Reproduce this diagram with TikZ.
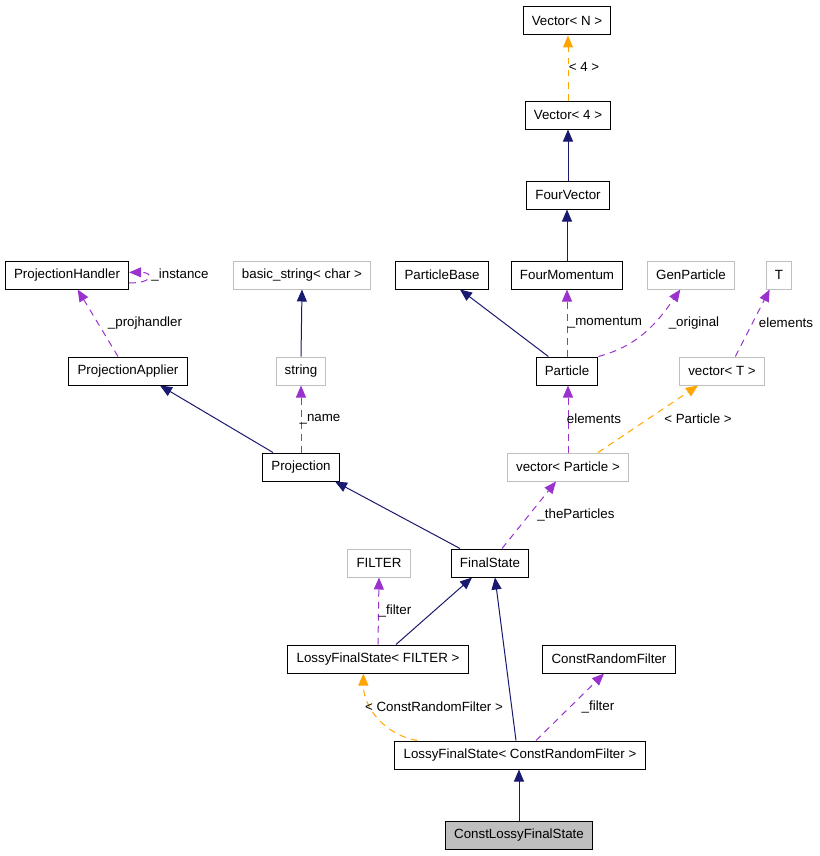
\documentclass[tikz,border=0pt]{standalone}
\usepackage{fontspec}
\setmainfont{Liberation Sans}
\usetikzlibrary{arrows.meta}

\definecolor{inhcol}{HTML}{191970}
\definecolor{usecol}{HTML}{9A32CD}
\definecolor{tplcol}{HTML}{FFA500}
\definecolor{extcol}{HTML}{BFBFBF}

\begin{document}
\begin{tikzpicture}[%
        x = 0.75pt, y = -0.75pt,
        every node/.style = {font = \fontsize{10}{12}\selectfont},
        cls/.style = {%
            draw = black, line width = 0.75pt, fill = white,
            inner xsep = 6.5pt, minimum height = 21pt
        },
        extcls/.style = {cls, draw = extcol},
        selfcls/.style = {cls, fill = extcol},
        tip/.style = {-{Triangle[length = 9pt, width = 7.5pt]}},
        inherit/.style = {tip, draw = inhcol, line width = 0.75pt},
        member/.style = {%
            tip, draw = usecol, line width = 0.75pt,
            dash pattern = on 5pt off 4pt
        },
        instance/.style = {%
            tip, draw = tplcol, line width = 0.75pt,
            dash pattern = on 5pt off 4pt
        },
        lbl/.style = {inner sep = 1pt}
    ]

        \useasboundingbox (0,0) rectangle (819,856);

        % Classes of the upper part.
        \node[cls] (vn) at (567,21) {Vector< N >};
        \node[cls] (v4) at (568,115) {Vector< 4 >};
        \node[cls] (fv) at (568,195) {FourVector};
        \node[cls] (fm) at (567,275) {FourMomentum};
        \node[cls] (pb) at (442,275) {ParticleBase};
        \node[extcls] (gp) at (691,275) {GenParticle};
        \node[extcls] (t) at (779,275) {T};
        \node[extcls] (bs) at (302,275) {basic\_string< char >};
        \node[cls] (ph) at (67,275) {ProjectionHandler};

        % Classes of the middle part.
        \node[cls] (pa) at (128,371) {ProjectionApplier};
        \node[extcls] (str) at (301,371) {string};
        \node[cls] (part) at (567,371) {Particle};
        \node[extcls] (vt) at (722,371) {vector< T >};
        \node[cls] (proj) at (301,467) {Projection};
        \node[extcls] (vp) at (568,467) {vector< Particle >};

        % Classes of the lower part.
        \node[extcls] (filt) at (379,563) {FILTER};
        \node[cls] (fs) at (490,563) {FinalState};
        \node[cls] (lfsf) at (378,659) {LossyFinalState< FILTER >};
        \node[cls] (crf) at (609,659) {ConstRandomFilter};
        \node[cls] (lfscrf) at (520,755) {LossyFinalState< ConstRandomFilter >};
        \node[selfcls] (clfs) at (519,835) {ConstLossyFinalState};

        % Solid arrows for inheritance.
        \draw[inherit] (fv.north) -- (v4.south);
        \draw[inherit] (fm.north) -- (fm.north |- fv.south);
        \draw[inherit] ([xshift = -14pt]part.north) -- ([xshift = 13.5pt]pb.south);
        \draw[inherit] (str.north) -- (bs.south);
        \draw[inherit] ([xshift = -21pt]proj.north) -- ([xshift = 24pt]pa.south);
        \draw[inherit] ([xshift = -22.5pt]fs.north) -- ([xshift = 25.5pt]proj.south);
        \draw[inherit] ([xshift = 13.5pt]lfsf.north) -- ([xshift = -13.5pt]fs.south);
        \draw[inherit] ([xshift = -3pt]lfscrf.north) -- ([xshift = 3.75pt]fs.south);
        \draw[inherit] (clfs.north) -- (clfs.north |- lfscrf.south);

        % Dashed arrows for members.
        \draw[member] (part.north) -- (fm.south);
        \draw[member] (part.north east) to[out = 15, in = -125] ([xshift = -8pt]gp.south);
        \draw[member] ([xshift = 10pt]vt.north) -- ([xshift = -7pt]t.south);
        \draw[member] ([xshift = -7.5pt]pa.north) -- ([xshift = 8pt]ph.south);
        \draw[member] ([yshift = -6pt]ph.east) to[out = 0, in = 0, looseness = 6] ([yshift = 2pt]ph.east);
        \draw[member] (proj.north) -- (str.south);
        \draw[member] (vp.north) -- (vp.north |- part.south);
        \draw[member] ([xshift = 9pt]fs.north) -- ([xshift = -9pt]vp.south);
        \draw[member] (lfsf.north) -- (filt.south);
        \draw[member] ([xshift = 12pt]lfscrf.north) -- ([xshift = -3.75pt]crf.south);

        % Dashed arrows for template instances.
        \draw[instance] (v4.north) -- (v4.north |- vn.south);
        \draw[instance] ([xshift = 22.5pt]vp.north) -- ([xshift = -18pt]vt.south);
        \draw[instance] ([xshift = -77pt]lfscrf.north) to[out = 170, in = -90] ([xshift = -11pt]lfsf.south);

        % Label the connectors.
        \node[lbl] (l4) at (584,67) {< 4 >};
        \node[lbl] (linst) at (180,275) {\_instance};
        \node[lbl] (lph) at (145,323) {\_projhandler};
        \node[lbl] (lmom) at (605,323) {\_momentum};
        \node[lbl] (lorig) at (694,323) {\_original};
        \node[lbl] (lelt) at (786,323) {elements};
        \node[lbl] (lname) at (320,419) {\_name};
        \node[lbl] (lelp) at (594,419) {elements};
        \node[lbl] (lpart) at (698,419) {< Particle >};
        \node[lbl] (lthe) at (576,515) {\_theParticles};
        \node[lbl] (lfilt) at (395,611) {\_filter};
        \node[lbl] (lcrf) at (434,707) {< ConstRandomFilter >};
        \node[lbl] (lfilt2) at (598,707) {\_filter};
    \end{tikzpicture}
\end{document}
